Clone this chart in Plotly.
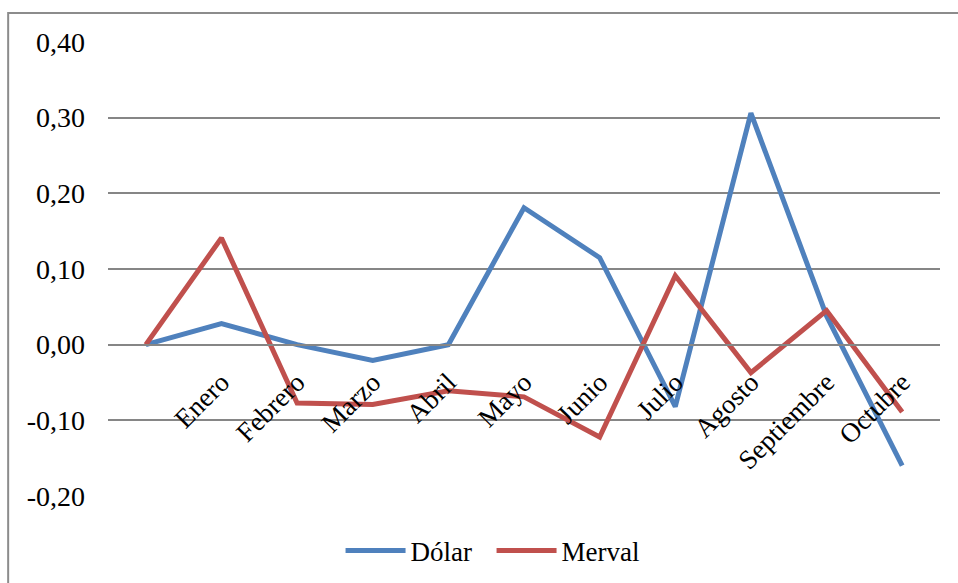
import plotly.graph_objs as go

# categories: first point has no label
months = ["", "Enero", "Febrero", "Marzo", "Abril", "Mayo", "Junio",
          "Julio", "Agosto", "Septiembre", "Octubre"]
dolar = [0.00, 0.028, 0.00, -0.021, 0.00, 0.181, 0.115, -0.082, 0.306, 0.038, -0.160]
merval = [0.00, 0.141, -0.077, -0.079, -0.061, -0.069, -0.122, 0.091, -0.037, 0.045, -0.089]
y_ticks = [-0.2, -0.1, 0.0, 0.1, 0.2, 0.3, 0.4]
y_labels = ["-0,20", "-0,10", "0,00", "0,10", "0,20", "0,30", "0,40"]

BLUE = "#4F81BD"
RED = "#C0504D"
GRID = "#868686"
FONT = "Liberation Serif"

x = list(range(len(months)))

fig = go.Figure()
fig.add_trace(go.Scatter(x=x, y=dolar, mode="lines", name="Dólar",
                         line=dict(color=BLUE, width=5)))
fig.add_trace(go.Scatter(x=x, y=merval, mode="lines", name="Merval",
                         line=dict(color=RED, width=5)))

fig.update_layout(
    width=958, height=583,
    margin=dict(l=108, r=18, t=42, b=87, autoexpand=False),
    paper_bgcolor="white", plot_bgcolor="white",
    font=dict(family=FONT, size=28, color="black"),
    showlegend=True,
    # legend placed against the container so it does not push the margins
    legend=dict(orientation="h", x=0.461, xanchor="center",
                yref="container", y=0.055, yanchor="middle",
                font=dict(size=27), tracegroupgap=0, itemwidth=60,
                entrywidth=76, entrywidthmode="pixels"),
    xaxis=dict(
        range=[-0.5, len(months) - 0.5],
        tickvals=x, ticktext=months, tickangle=-45,
        showgrid=False, zeroline=False,
        anchor="free", position=1 / 3,
        showline=True, linecolor=GRID, linewidth=2,
        ticks="", ticklabelstandoff=10,
        tickfont=dict(size=27), automargin=False,
    ),
    yaxis=dict(
        range=[-0.2, 0.4],
        tickvals=y_ticks, ticktext=y_labels,
        showgrid=True, gridcolor=GRID, gridwidth=2,
        zeroline=False, showline=False,
        ticks="", ticklabelstandoff=22,
        tickfont=dict(size=28), automargin=False,
    ),
    # chart-area border, runs off the right and bottom edges like the original
    shapes=[dict(type="rect", xref="paper", yref="paper",
                 x0=-0.12, x1=1.5, y0=-0.6, y1=1.064,
                 line=dict(color="#8c8c8c", width=2), fillcolor="rgba(0,0,0,0)")],
)

# drop the default page margin so the figure sits at the window's corner
fig.write_html("out.html", config={"displayModeBar": False},
               post_script="document.body.style.margin='0';"
                           "document.body.style.overflow='hidden';")
